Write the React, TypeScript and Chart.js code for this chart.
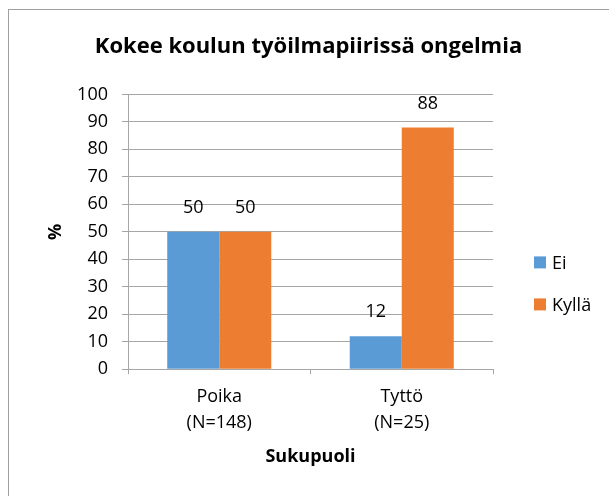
import React, { useEffect, useRef } from "react";
import { Chart, registerables } from "chart.js";

Chart.register(...registerables);

const TITLE = "Kokee koulun työilmapiirissä ongelmia";
const CATEGORIES: string[][] = [
  ["Poika", "(N=148)"],
  ["Tyttö", "(N=25)"],
];
const SERIES_LABELS = ["Ei", "Kyllä"];
const EI_VALUES = [50, 12];
const KYLLA_VALUES = [50, 88];
const SERIES_COLORS = ["#5B9BD5", "#ED7D31"];
const Y_MIN = 0;
const Y_MAX = 100;
const Y_STEP = 10;
const X_TITLE = "Sukupuoli";
const Y_TITLE = "%";

const FONT = "'Open Sans', sans-serif";
const TEXT = "#000000";
const GRID = "#a6a6a6";

const valueLabels = {
  id: "valueLabels",
  afterDatasetsDraw(chart: any) {
    const ctx = chart.ctx;
    ctx.save();
    ctx.font = `18px ${FONT}`;
    ctx.fillStyle = TEXT;
    ctx.textAlign = "center";
    ctx.textBaseline = "middle";
    chart.data.datasets.forEach((ds: any, i: number) => {
      const meta = chart.getDatasetMeta(i);
      meta.data.forEach((el: any, j: number) => {
        ctx.fillText(String(ds.data[j]), el.x, el.y - 24);
      });
    });
    ctx.restore();
  },
};

const sideLegend = {
  id: "sideLegend",
  afterDraw(chart: any) {
    const ctx = chart.ctx;
    const area = chart.chartArea;
    ctx.save();
    ctx.font = `18px ${FONT}`;
    ctx.textBaseline = "middle";
    ctx.textAlign = "left";
    chart.data.datasets.forEach((ds: any, i: number) => {
      const cy = area.top + 168 + i * 42;
      const bx = area.right + 41;
      ctx.fillStyle = ds.backgroundColor;
      ctx.fillRect(bx, cy - 6, 12, 12);
      ctx.fillStyle = TEXT;
      ctx.fillText(ds.label, bx + 18, cy + 1);
    });
    ctx.restore();
  },
};

export default function App() {
  const ref = useRef<HTMLCanvasElement | null>(null);

  useEffect(() => {
    if (!ref.current) return;
    const chart = new Chart(ref.current, {
      type: "bar",
      data: {
        labels: CATEGORIES,
        datasets: [
          {
            label: SERIES_LABELS[0],
            data: EI_VALUES,
            backgroundColor: SERIES_COLORS[0],
            categoryPercentage: 0.57,
            barPercentage: 1.0,
          },
          {
            label: SERIES_LABELS[1],
            data: KYLLA_VALUES,
            backgroundColor: SERIES_COLORS[1],
            categoryPercentage: 0.57,
            barPercentage: 1.0,
          },
        ],
      },
      options: {
        responsive: false,
        animation: false,
        layout: {
          padding: { left: 8, right: 0, top: 9, bottom: 24 },
        },
        plugins: {
          legend: { display: false },
          tooltip: { enabled: false },
          title: {
            display: true,
            text: TITLE,
            color: TEXT,
            font: { family: FONT, size: 22, weight: "bold", lineHeight: 1.2 },
            padding: { top: 25, bottom: 34 },
          },
        },
        scales: {
          x: {
            grid: {
              offset: true,
              drawOnChartArea: false,
              drawTicks: true,
              tickLength: 5,
              color: GRID,
            },
            border: { color: GRID, width: 1 },
            ticks: {
              color: TEXT,
              padding: 10,
              font: { family: FONT, size: 18, lineHeight: 1.45 },
            },
            title: {
              display: true,
              text: X_TITLE,
              color: TEXT,
              font: { family: FONT, size: 18, weight: "bold", lineHeight: 1.2 },
              padding: { top: 0, bottom: 4 },
            },
          },
          y: {
            min: Y_MIN,
            max: Y_MAX,
            afterFit(scale: any) {
              scale.width = 120;
            },
            grid: { color: GRID, tickLength: 6, drawTicks: true },
            border: { color: GRID, width: 1 },
            ticks: {
              stepSize: Y_STEP,
              color: TEXT,
              padding: 14,
              font: { family: FONT, size: 18 },
            },
            title: {
              display: true,
              text: Y_TITLE,
              color: TEXT,
              font: { family: FONT, size: 18, weight: "bold", lineHeight: 1.2 },
              padding: { top: 37, bottom: 0 },
            },
          },
          legendSpace: {
            type: "linear",
            position: "right",
            display: true,
            afterFit(scale: any) {
              scale.width = 116;
            },
            grid: { display: false, drawTicks: false },
            border: { display: false },
            ticks: { display: false },
          },
        },
      },
      plugins: [valueLabels, sideLegend],
    });
    return () => chart.destroy();
  }, []);

  return (
    <div
      style={{
        position: "absolute",
        left: 0,
        top: 0,
        width: 609,
        height: 496,
        overflow: "hidden",
        background: "#ffffff",
      }}
    >
      <div
        style={{
          position: "absolute",
          left: 8,
          top: 9,
          width: 700,
          height: 600,
          borderLeft: "1px solid #a0a0a0",
          borderTop: "1px solid #a0a0a0",
        }}
      />
      <canvas
        ref={ref}
        width={609}
        height={496}
        style={{ position: "absolute", left: 0, top: 0, width: 609, height: 496 }}
      />
    </div>
  );
}
